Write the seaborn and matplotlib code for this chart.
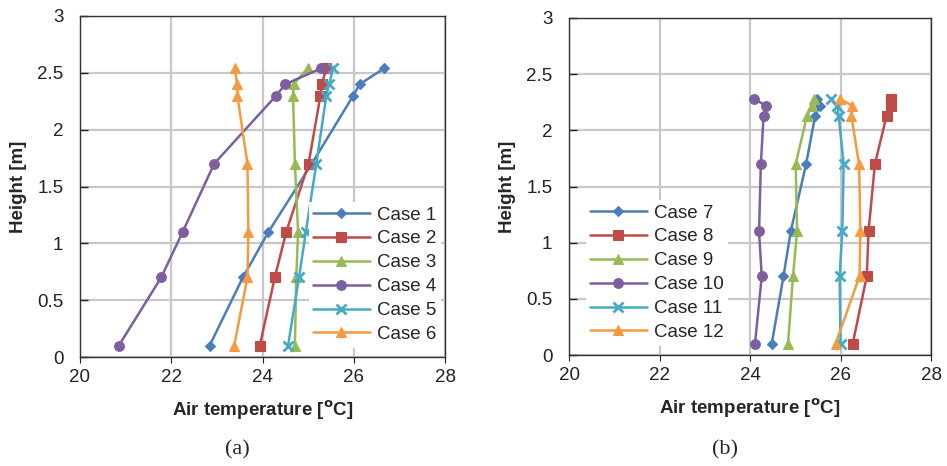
import matplotlib
matplotlib.use("Agg")
import matplotlib.pyplot as plt
import seaborn as sns

# Heights [m] of measuring points
heights_a = [0.1, 0.7, 1.1, 1.7, 2.3, 2.4, 2.54]
heights_b = [0.1, 0.7, 1.1, 1.7, 2.13, 2.22, 2.28]

# Air temperature [oC] for each case
case1 = [22.84, 23.57, 24.13, 25.08, 25.99, 26.13, 26.67]
case2 = [23.94, 24.27, 24.52, 25.01, 25.27, 25.30, 25.40]
case3 = [24.71, 24.74, 24.78, 24.71, 24.67, 24.68, 24.99]
case4 = [20.85, 21.78, 22.25, 22.94, 24.30, 24.50, 25.29]
case5 = [24.56, 24.80, 24.95, 25.18, 25.40, 25.46, 25.55]
case6 = [23.38, 23.67, 23.69, 23.67, 23.45, 23.44, 23.40]

case7 = [24.48, 24.74, 24.90, 25.24, 25.44, 25.55, 25.49]
case8 = [26.27, 26.58, 26.62, 26.76, 27.02, 27.11, 27.11]
case9 = [24.84, 24.95, 25.04, 25.01, 25.26, 25.38, 25.41]
case10 = [24.11, 24.26, 24.20, 24.24, 24.30, 24.35, 24.09]
case11 = [26.00, 25.98, 26.04, 26.07, 25.96, 25.93, 25.78]
case12 = [25.89, 26.42, 26.44, 26.41, 26.24, 26.26, 25.98]

labels_a = ["Case 1", "Case 2", "Case 3", "Case 4", "Case 5", "Case 6"]
labels_b = ["Case 7", "Case 8", "Case 9", "Case 10", "Case 11", "Case 12"]

colors = ["#4A7EBB", "#BE4B48", "#98B954", "#7D5FA0", "#46AAC5", "#F49A3F"]
markers = ["D", "s", "^", "o", "x", "^"]
msizes = [5.5, 6.5, 7, 7, 6.5, 7]

sns.set_style("white")
plt.rcParams["font.family"] = ["Liberation Sans", "DejaVu Sans"]

fig = plt.figure(figsize=(9.47, 4.66), dpi=100)
ax_a = fig.add_axes([80 / 947, 1 - 357 / 466, 365 / 947, 341 / 466])
ax_b = fig.add_axes([569 / 947, 1 - 355 / 466, 362 / 947, 337 / 466])


def draw_panel(ax, heights, series, labels, legend_loc, legend_anchor):
    for i, temps in enumerate(series):
        sns.lineplot(x=temps, y=heights, ax=ax, sort=False, estimator=None,
                     color=colors[i], marker=markers[i], markersize=msizes[i],
                     markeredgewidth=2 if markers[i] == "x" else 0.8,
                     markeredgecolor=colors[i], linewidth=1.8, label=labels[i])
    ax.set_xlim(20, 28)
    ax.set_ylim(0, 3)
    ax.set_xticks([20, 22, 24, 26, 28])
    ax.set_yticks([0, 0.5, 1, 1.5, 2, 2.5, 3])
    ax.set_yticklabels(["0", "0.5", "1", "1.5", "2", "2.5", "3"])
    ax.grid(True, color="#C8C8C8", linewidth=1.6)
    ax.set_axisbelow(True)
    for s in ax.spines.values():
        s.set_color("#333333")
        s.set_linewidth(1.0)
    ax.tick_params(axis="x", labelsize=13.5, colors="#222222", length=4,
                   direction="out", bottom=True, pad=5)
    ax.tick_params(axis="y", labelsize=13.5, colors="#222222", left=True,
                   direction="in", length=6, width=1.0, pad=12)
    ax.set_xlabel(r"Air temperature [$^{\mathbf{o}}$C]", fontsize=13.5,
                  fontweight="bold", labelpad=9)
    ax.set_ylabel("Height [m]", fontsize=13.5, fontweight="bold", labelpad=7)
    leg = ax.legend(loc=legend_loc, bbox_to_anchor=legend_anchor, fontsize=13.5,
                    frameon=True, framealpha=1, edgecolor="white",
                    handlelength=3.0, labelspacing=0.36, borderpad=0.25,
                    handletextpad=0.4, fancybox=False)
    leg.get_frame().set_linewidth(0)


draw_panel(ax_a, heights_a, [case1, case2, case3, case4, case5, case6],
           labels_a, "lower right", (1.015, 0.0))
draw_panel(ax_b, heights_b, [case7, case8, case9, case10, case11, case12],
           labels_b, "lower left", (0.02, 0.0))

fig.text(237 / 947, 1 - 450 / 466, "(a)", ha="center", va="center",
         fontsize=16, family="Liberation Serif")
fig.text(725 / 947, 1 - 450 / 466, "(b)", ha="center", va="center",
         fontsize=16, family="Liberation Serif")

fig.savefig("out.png", dpi=100, facecolor="white")
